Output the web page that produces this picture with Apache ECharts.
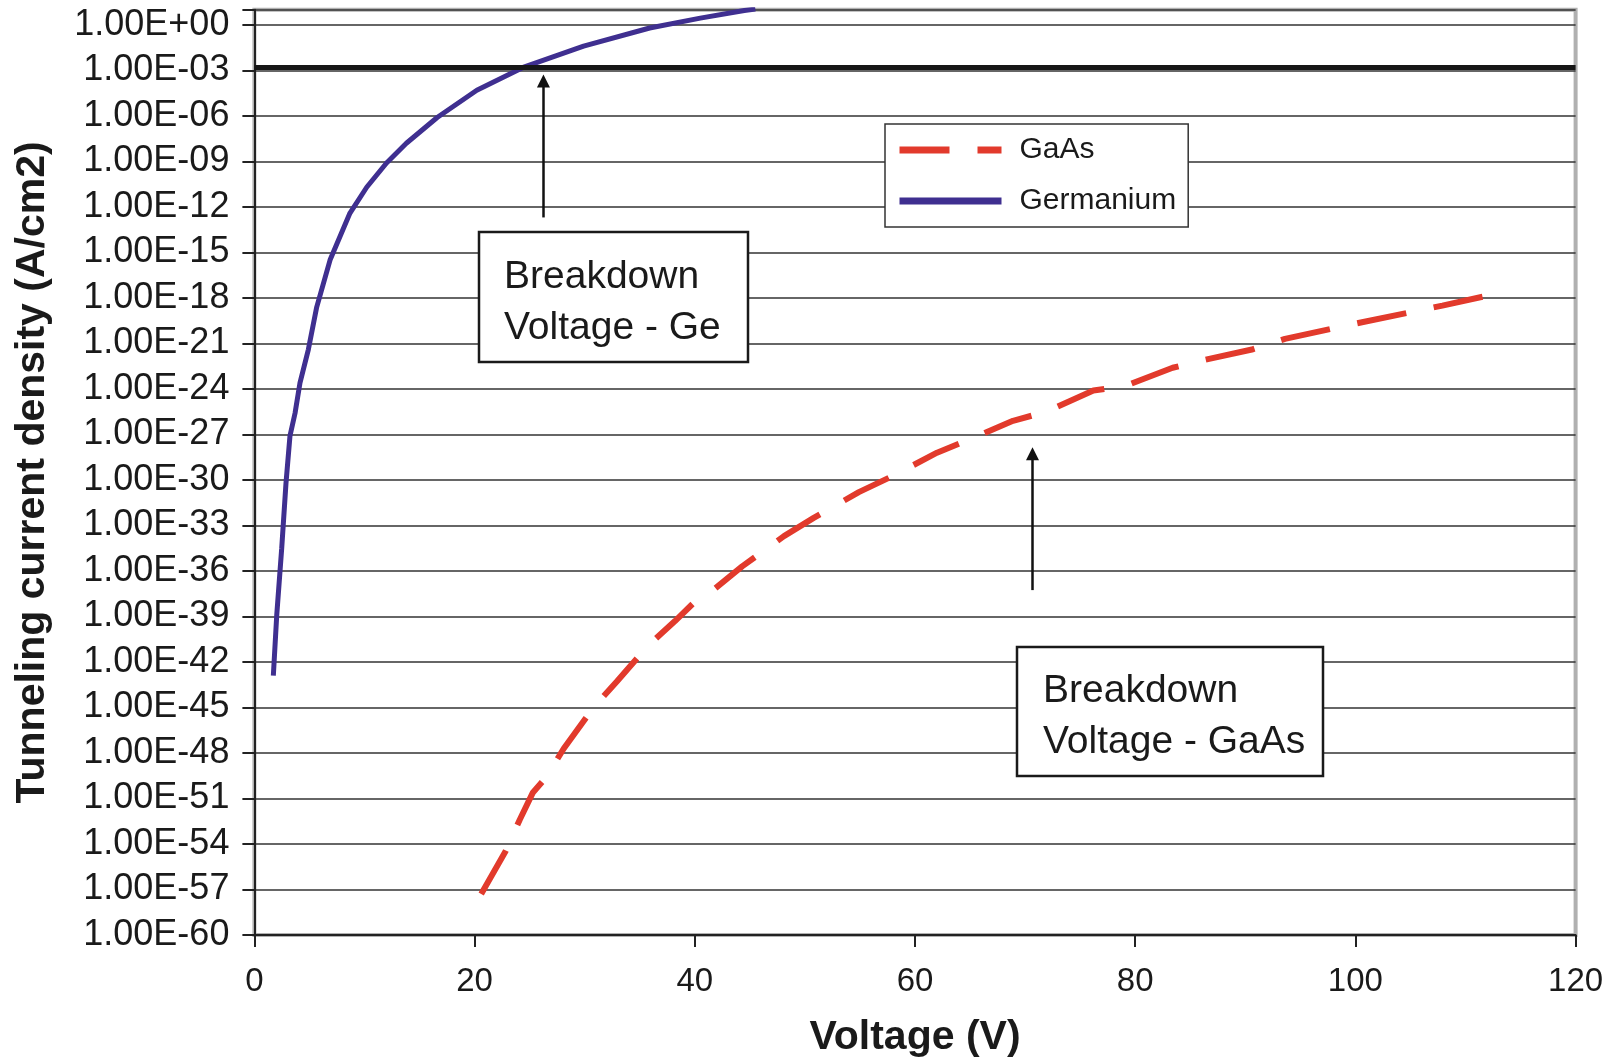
<!DOCTYPE html>
<html>
<head>
<meta charset="utf-8">
<title>Tunneling current density vs voltage</title>
<script src="https://cdn.jsdelivr.net/npm/echarts@6/dist/echarts.min.js"></script>
<style>
  html, body { margin: 0; padding: 0; background: #fff; }
  #chart { width: 1620px; height: 1062px; }
</style>
</head>
<body>
<div id="chart"></div>
<script>
// current density is plotted as log10(J), J in A/cm2
const geVoltage = [1.72, 2.03, 2.48, 2.87, 3.23, 3.69, 4.14, 4.9, 5.66, 6.87, 8.68, 10.2, 12.0, 13.8, 16.6, 20.2, 24.4, 29.9, 35.9, 40.5, 44.5, 45.5];
const geLogJ = [-42.9, -38.9, -34.5, -30.2, -27.1, -25.6, -23.6, -21.4, -18.6, -15.5, -12.4, -10.7, -9.1, -7.8, -6.1, -4.3, -2.8, -1.4, -0.2, 0.45, 0.95, 1.05];

const gaasVoltage = [20.6, 22.8, 24.1, 25.3, 26.5, 28.1, 30.8, 32.9, 35.8, 38.2, 39.9, 41.6, 44.3, 48.1, 50.8, 54.9, 57.8, 62.0, 64.7, 68.9, 71.9, 76.2, 79.1, 83.4, 86.2, 90.6, 93.6, 98.0, 100.6, 105.3, 107.9, 112.3];
const gaasLogJ = [-57.3, -54.5, -52.4, -50.6, -49.6, -47.7, -45.0, -43.3, -40.9, -39.3, -38.1, -37.3, -35.7, -33.7, -32.5, -30.8, -29.8, -28.2, -27.4, -26.1, -25.5, -24.1, -23.8, -22.6, -22.1, -21.4, -20.7, -20.0, -19.6, -18.9, -18.5, -17.8];

// breakdown level (thick horizontal line)
const breakdownLogJ = -2.76;
// arrows: [voltage, logJ start, logJ end]
const geArrow = [26.25, -12.69, -3.7];
const gaasArrow = [70.67, -37.26, -28.27];

const seriesNames = ['GaAs', 'Germanium'];
const yTickLabels = ['1.00E+00', '1.00E-03', '1.00E-06', '1.00E-09', '1.00E-12', '1.00E-15', '1.00E-18',
  '1.00E-21', '1.00E-24', '1.00E-27', '1.00E-30', '1.00E-33', '1.00E-36', '1.00E-39', '1.00E-42',
  '1.00E-45', '1.00E-48', '1.00E-51', '1.00E-54', '1.00E-57', '1.00E-60'];

const FONT = "'Liberation Sans', Arial, sans-serif";

const chart = echarts.init(document.getElementById('chart'));

const geData = geVoltage.map((v, i) => [v, geLogJ[i]]);
const gaasData = gaasVoltage.map((v, i) => [v, gaasLogJ[i]]);

const option = {
  animation: false,
  backgroundColor: '#fff',
  grid: {
    left: 254.4, right: 44.4, top: 9.8, bottom: 127,
    show: true, borderColor: '#b0b0b0', borderWidth: 4,
    outerBoundsMode: 'none'
  },
  legend: {
    orient: 'vertical', left: 885, top: 124,
    padding: [11, 12, 11, 11],
    backgroundColor: '#fff', borderColor: '#333', borderWidth: 1.5,
    itemWidth: 102, itemHeight: 30, itemGap: 21,
    itemStyle: { opacity: 0 },
    lineStyle: { width: 7 },
    textStyle: { fontSize: 30, fontFamily: FONT, color: '#1a1a1a', padding: [0, 0, 0, 13] },
    data: seriesNames
  },
  xAxis: {
    type: 'value', min: 0, max: 120, interval: 20,
    name: 'Voltage (V)', nameLocation: 'middle', nameGap: 82,
    nameTextStyle: { fontSize: 41, fontWeight: 'bold', fontFamily: FONT, color: '#1a1a1a' },
    axisLine: { onZero: false, lineStyle: { color: '#222', width: 2 } },
    axisTick: { length: 12, lineStyle: { color: '#222', width: 2 } },
    axisLabel: { fontSize: 33, fontFamily: FONT, color: '#1a1a1a', margin: 30 },
    splitLine: { show: false }
  },
  yAxis: {
    type: 'value', min: -60, max: 1, interval: 3,
    name: 'Tunneling current density (A/cm2)', nameLocation: 'middle', nameGap: 201,
    nameTextStyle: { fontSize: 41, fontWeight: 'bold', fontFamily: FONT, color: '#1a1a1a' },
    axisLine: { onZero: false, lineStyle: { color: '#222', width: 2 } },
    axisTick: { length: 12, lineStyle: { color: '#222', width: 2 } },
    axisLabel: {
      fontSize: 36, fontFamily: FONT, color: '#1a1a1a', margin: 25,
      formatter: v => (v > 0 ? '' : yTickLabels[Math.round(-v / 3)])
    },
    splitLine: { lineStyle: { color: '#333', width: 1.6 } }
  },
  series: [
    {
      name: 'GaAs', type: 'line', data: gaasData,
      showSymbol: false, symbol: 'none', smooth: false,
      lineStyle: { color: '#e23a2c', width: 6, type: [50, 28] },
      itemStyle: { color: '#e23a2c' },
      markLine: {
        silent: true, symbol: ['none', 'triangle'], symbolSize: 13,
        label: { show: false },
        lineStyle: { color: '#111', width: 2.5, type: 'solid' },
        itemStyle: { color: '#111' },
        emphasis: { disabled: true },
        data: [
          [{ coord: [geArrow[0], geArrow[1]] }, { coord: [geArrow[0], geArrow[2]] }],
          [{ coord: [gaasArrow[0], gaasArrow[1]] }, { coord: [gaasArrow[0], gaasArrow[2]] }]
        ]
      }
    },
    {
      name: 'Germanium', type: 'line', data: geData,
      showSymbol: false, symbol: 'none', smooth: false,
      lineStyle: { color: '#3f2f90', width: 5 },
      itemStyle: { color: '#3f2f90' },
      markLine: {
        silent: true, symbol: 'none',
        label: { show: false },
        lineStyle: { color: '#161616', width: 5, type: 'solid' },
        emphasis: { disabled: true },
        data: [{ yAxis: breakdownLogJ }]
      }
    }
  ],
  graphic: [
    {
      type: 'rect', z: 100,
      shape: { x: 479, y: 232, width: 269, height: 130 },
      style: { fill: '#fff', stroke: '#1a1a1a', lineWidth: 2.5 }
    },
    {
      type: 'text', z: 101, x: 504, y: 252,
      style: {
        text: 'Breakdown\nVoltage - Ge', fontSize: 39, fontFamily: FONT,
        fill: '#1a1a1a', lineHeight: 51, align: 'left', verticalAlign: 'top'
      }
    },
    {
      type: 'rect', z: 100,
      shape: { x: 1017, y: 647, width: 306, height: 129 },
      style: { fill: '#fff', stroke: '#1a1a1a', lineWidth: 2.5 }
    },
    {
      type: 'text', z: 101, x: 1043, y: 665,
      style: {
        text: 'Breakdown\nVoltage - GaAs', fontSize: 39, fontFamily: FONT,
        fill: '#1a1a1a', lineHeight: 51.5, align: 'left', verticalAlign: 'top'
      }
    }
  ]
};

chart.setOption(option);
</script>
</body>
</html>
